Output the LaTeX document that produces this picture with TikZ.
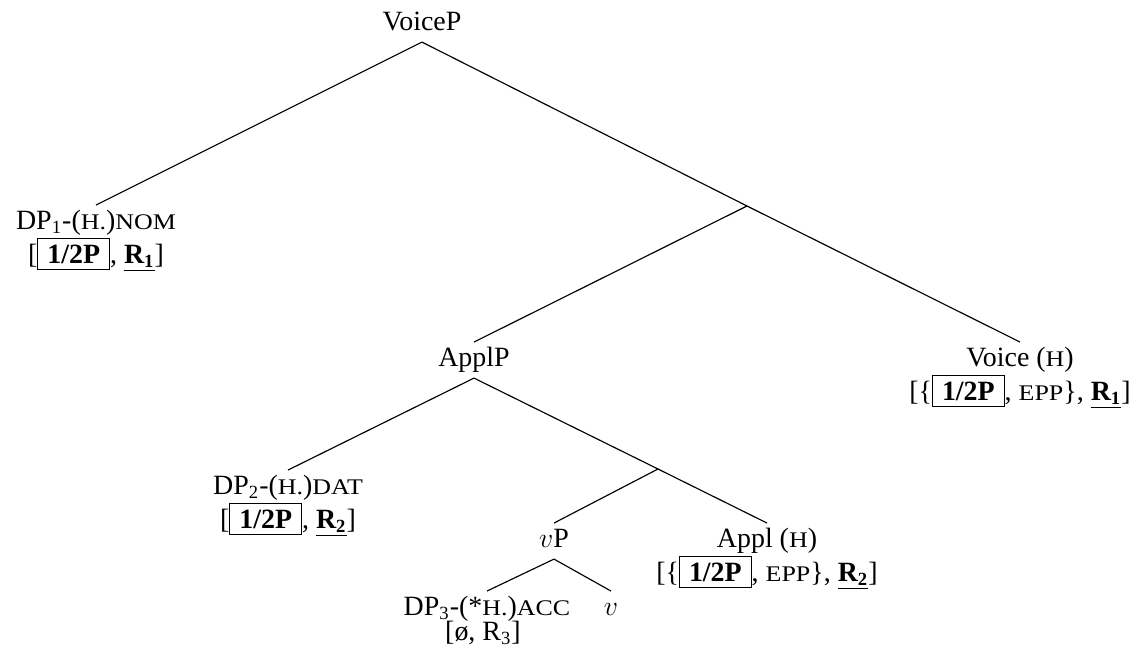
\documentclass[tikz,border=0pt]{standalone}
\usepackage{fontspec}
\setmainfont{Liberation Serif}
\usepackage{graphicx}
\newcommand{\sca}[1]{\scalebox{0.93}[0.8]{#1}}
\newcommand{\bx}{\fbox{\hspace{1.4pt}\textbf{1/2P}\hspace{1.4pt}}}
\newcommand{\Rb}[1]{\underline{\textbf{R\textsubscript{#1}}}}
\setlength\fboxsep{2.5pt}
\setlength\fboxrule{0.4pt}
\begin{document}
\begin{tikzpicture}[x=0.43pt,y=-0.43pt,
  lbl/.style={inner sep=0pt, outer sep=0pt, text height=10.3pt, text depth=5.2pt, anchor=base, font=\fontsize{12}{14}\selectfont},
  feat/.style={inner sep=0pt, outer sep=0pt, anchor=base, font=\fontsize{12}{14}\selectfont},
  branch/.style={line width=0.5pt}]
\useasboundingbox (0,0) rectangle (1148,652);
\node[lbl] (VoiceP) at (422,30) {VoiceP};
\node[lbl] (DP1) at (96,229) {DP\textsubscript{1}-(\sca{H.})\sca{NOM}};
\node[feat] (DP1f) at (96,263) {[\bx, \Rb{1}]};
\coordinate (X1) at (747,206);
\node[lbl] (ApplP) at (474,366) {ApplP};
\node[lbl] (Voice) at (1020,366) {Voice (\sca{H})};
\node[feat] (Voicef) at (1020,400) {[\{\bx, \sca{EPP}\}, \Rb{1}]};
\node[lbl] (DP2) at (288,494) {DP\textsubscript{2}-(\sca{H.})\sca{DAT}};
\node[feat] (DP2f) at (288,528) {[\bx, \Rb{2}]};
\coordinate (X2) at (658,469);
\node[lbl] (vP) at (554,547) {$v$P};
\node[lbl] (Appl) at (767,547) {Appl (\sca{H})};
\node[feat] (Applf) at (767,581) {[\{\bx, \sca{EPP}\}, \Rb{2}]};
\node[lbl] (DP3) at (487,615) {DP\textsubscript{3}-(*\sca{H.})\sca{ACC}};
\node[feat] (DP3f) at (483,640) {[ø, R\textsubscript{3}]};
\node[lbl] (v) at (611,615) {$v$};
\draw[branch] (VoiceP.south) -- (DP1.north);
\draw[branch] (VoiceP.south) -- (X1) -- (Voice.north);
\draw[branch] (X1) -- (ApplP.north);
\draw[branch] (ApplP.south) -- (DP2.north);
\draw[branch] (ApplP.south) -- (X2) -- (Appl.north);
\draw[branch] (X2) -- (vP.north);
\draw[branch] (vP.south) -- (DP3.north);
\draw[branch] (vP.south) -- (v.north);
\end{tikzpicture}
\end{document}
